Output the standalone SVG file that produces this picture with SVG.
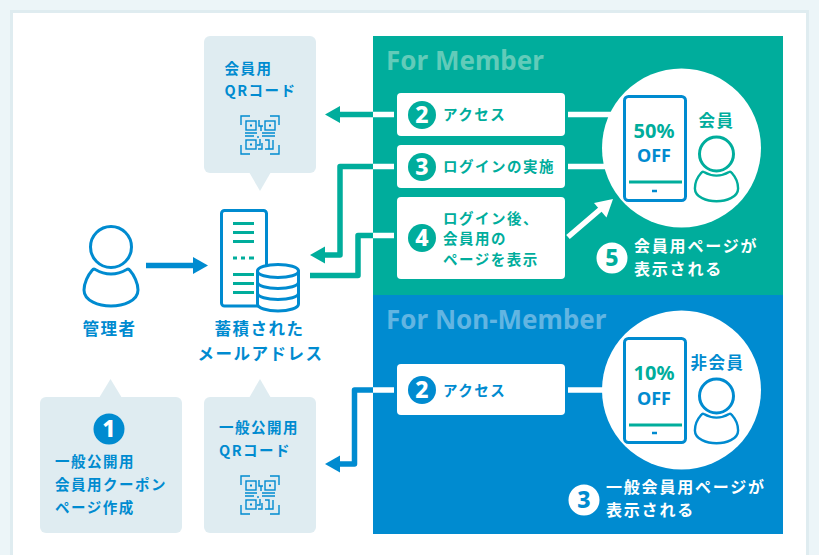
<svg xmlns="http://www.w3.org/2000/svg" xmlns:xlink="http://www.w3.org/1999/xlink" width="819" height="555" viewBox="0 0 819 555">
<style>
text{font-family:"Noto Sans CJK JP","Noto Sans",sans-serif;font-weight:700}
.t{font-size:14.500px;letter-spacing:1.500px}
.b{fill:#008bd0}.g{fill:#00ad9c}.w{fill:#fff}
.bub{fill:#dfecf1}
.pill{fill:#fff}
.l16{font-size:16.500px;letter-spacing:1.500px}
.l15{font-size:16px;letter-spacing:1.800px}
.en{font-family:"Noto Sans",sans-serif;font-weight:700}
.num{font-family:"Noto Sans",sans-serif;font-weight:800;font-size:23px;text-anchor:middle}
.ln{fill:none;stroke-width:5.5;stroke-linejoin:round}
.tl{stroke:#00ad9c}.bl{stroke:#008bd0}.wl{stroke:#fff}
.ic{fill:none;stroke-width:3;stroke-linejoin:round;stroke-linecap:round}
</style>
<defs>
<path id="body" d="M-15.7,22.5Q-8,27 0,27Q8,27 15.7,22.5C16.5,22 18,22 19,23.5C23,28 27,36 27,43C27,54 12,59 0,59C-12,59 -27,54 -27,43C-27,36 -23,28 -19,23.5C-18,22 -16.5,22 -15.7,22.5Z"/>
<g id="qr" fill="none" stroke="#008bd0" stroke-width="1.4">
<path d="M1,10V1H10M30,1H39V10M1,30V39H10M30,39H39V30"/>
<rect x="6" y="6" width="10" height="9"/><rect x="25" y="6" width="10" height="9"/><rect x="6" y="25" width="10" height="9"/>
<path d="M19,5V11H21V16M23,11H21M5,18H17M22,18H35M5,21H14M18,21V23M22,21H35M25,25H29V34H25M33,25V34H29M20,24V30H17M22,28V34H18"/>
<rect x="10" y="9.500" width="2" height="2" fill="#008bd0" stroke="none"/><rect x="29" y="9.500" width="2" height="2" fill="#008bd0" stroke="none"/><rect x="10" y="28.500" width="2" height="2" fill="#008bd0" stroke="none"/>
</g>
</defs>
<rect width="819" height="555" fill="#ecf5f8"/>
<rect x="11.500" y="11.500" width="796" height="560" fill="#fff" stroke="#dfecf0" stroke-width="3"/>

<g id="panel-member"><rect x="373" y="36" width="410" height="259" fill="#00ad9c"/>
<text class="en" x="386" y="70" font-size="26" fill="#62cbb9">For Member</text></g>
<g id="panel-non-member"><rect x="373" y="295" width="410" height="239" fill="#008bd0"/>
<text class="en" x="386" y="329" font-size="26" fill="#62b5e2">For Non-Member</text></g>

<g id="connectors">
<path class="ln wl" d="M568,114.500H612M568,166.500H612M568,237L603,207M373,114.500H394M373,166.500H394M373,235.500H394M568,390H612M373,390H394"/>
<path class="w" d="M613,199L606.500,217.500L594,203Z"/>
<path class="ln tl" d="M373,114.500H338M373,166.500H340V255H322M373,235.500H358V275.500H310"/>
<path class="g" d="M325,114.500L340,106V123ZM310,255L325,246.500V263.500Z"/>
<path class="ln bl" d="M373,390H354.500V464H338"/>
<path class="b" d="M325,464L340,455.500V472.500Z"/>
<path class="ln bl" d="M146,265.500H195"/>
<path class="b" d="M208,265.500L193,257V274Z"/>
</g>

<g id="bubble-member-qr"><rect class="bub" x="204" y="36" width="112" height="137" rx="6"/><path class="bub" d="M249,172H271L260,191Z"/>
<text class="t b" x="224.500" y="74">会員用</text><text class="t b" x="224.500" y="96">QRコード</text><use xlink:href="#qr" href="#qr" x="240" y="115"/></g>

<g id="bubble-coupon"><rect class="bub" x="40" y="397" width="142" height="136" rx="6"/><path class="bub" d="M99,398H122L110.500,379Z"/>
<circle class="b" cx="109" cy="429" r="15.500"/><text class="num w" x="109" y="437">1</text>
<text class="t b" x="55" y="467">一般公開用</text><text class="t b" x="55" y="490">会員用クーポン</text><text class="t b" x="55" y="513">ページ作成</text></g>

<g id="bubble-public-qr"><rect class="bub" x="204" y="397" width="112" height="136" rx="6"/><path class="bub" d="M249,398H271L260,379Z"/>
<text class="t b" x="219" y="433">一般公開用</text><text class="t b" x="219" y="456">QRコード</text><use xlink:href="#qr" href="#qr" x="240" y="475"/></g>

<g id="admin"><circle class="ic bl" cx="111" cy="247" r="20.500"/><use xlink:href="#body" href="#body" class="ic bl" transform="translate(111,247)"/>
<text class="l16 b" x="82.500" y="335">管理者</text></g>

<g id="storage">
<rect class="ic bl" x="221.500" y="210.500" width="45" height="95.500" rx="3"/>
<path class="ic tl" style="stroke-linecap:butt" d="M233,223.500H254M233,232.500H254M233,241.500H254M233,258H237M241,258H245M249,258H254M233,274.500H254M233,283.500H254M233,292.500H254"/>
<path d="M257.500,271V304C257.500,308 267,311 278,311C289,311 298.500,308 298.500,304V271C298.500,267 289,264.500 278,264.500C267,264.500 257.500,267 257.500,271Z" fill="#fff" stroke="#008bd0" stroke-width="3"/>
<path class="ic bl" d="M257.500,271C257.500,275 267,277.500 278,277.500C289,277.500 298.500,275 298.500,271M257.500,282C257.500,286 267,288.500 278,288.500C289,288.500 298.500,286 298.500,282M257.500,293C257.500,297 267,299.500 278,299.500C289,299.500 298.500,297 298.500,293"/>
<text class="l16 b" x="214.500" y="335">蓄積された</text><text class="l16 b" x="197.500" y="360">メールアドレス</text></g>

<g id="step-member-access"><rect class="pill" x="397" y="93" width="168" height="43" rx="4"/><circle class="g" cx="422" cy="115" r="14"/><text class="num w" x="422" y="123">2</text><text class="t g" x="443" y="120">アクセス</text></g>
<g id="step-login"><rect class="pill" x="397" y="145" width="168" height="43" rx="4"/><circle class="g" cx="422" cy="167" r="14"/><text class="num w" x="422" y="175">3</text><text class="t g" x="443" y="172">ログインの実施</text></g>
<g id="step-after-login"><rect class="pill" x="397" y="197" width="168" height="82" rx="4"/><circle class="g" cx="422" cy="238" r="14"/><text class="num w" x="422" y="246">4</text>
<text class="t g" x="443" y="224">ログイン後、</text><text class="t g" x="443" y="244">会員用の</text><text class="t g" x="443" y="265">ページを表示</text></g>
<g id="step-non-member-access"><rect class="pill" x="397" y="364" width="168" height="51" rx="4"/><circle class="b" cx="422" cy="390" r="14"/><text class="num w" x="422" y="398">2</text><text class="t b" x="443" y="396">アクセス</text></g>

<g id="member"><circle class="w" cx="681.500" cy="148" r="79.500"/>
<rect class="ic bl" x="624.500" y="96.500" width="61" height="104" rx="4"/>
<path class="ln tl" style="stroke-width:3" d="M629,182H682"/><path class="ln bl" style="stroke-width:2.500" d="M652,191H657"/>
<text class="en g" x="654" y="138" font-size="20" text-anchor="middle">50%</text><text class="en b" x="654" y="162" font-size="18" text-anchor="middle">OFF</text>
<text class="l16 g" x="698.500" y="127">会員</text>
<circle class="ic tl" cx="716.500" cy="154" r="17"/><use xlink:href="#body" href="#body" class="ic tl" transform="translate(716.500,154) scale(.8)"/>
</g>
<g id="non-member"><circle class="w" cx="681.500" cy="390" r="79.500"/>
<rect class="ic bl" x="624.500" y="338.500" width="61" height="104" rx="4"/>
<path class="ln tl" style="stroke-width:3" d="M629,425H682"/><path class="ln bl" style="stroke-width:2.500" d="M652,433H657"/>
<text class="en g" x="654" y="380" font-size="20" text-anchor="middle">10%</text><text class="en b" x="654" y="405" font-size="18" text-anchor="middle">OFF</text>
<text class="l16 b" x="690.500" y="369">非会員</text>
<circle class="ic bl" cx="716.500" cy="396" r="17"/><use xlink:href="#body" href="#body" class="ic bl" transform="translate(716.500,396) scale(.8)"/>
</g>
<g id="result-member"><circle class="w" cx="612" cy="258" r="15.500"/><text class="num g" x="612" y="266">5</text>
<text class="l15 w" x="634" y="252">会員用ページが</text><text class="l15 w" x="634" y="275">表示される</text></g>
<g id="result-non-member"><circle class="w" cx="584" cy="500" r="15.500"/><text class="num b" x="584" y="508">3</text>
<text class="l15 w" x="606" y="493">一般会員用ページが</text><text class="l15 w" x="606" y="516">表示される</text></g>
</svg>
